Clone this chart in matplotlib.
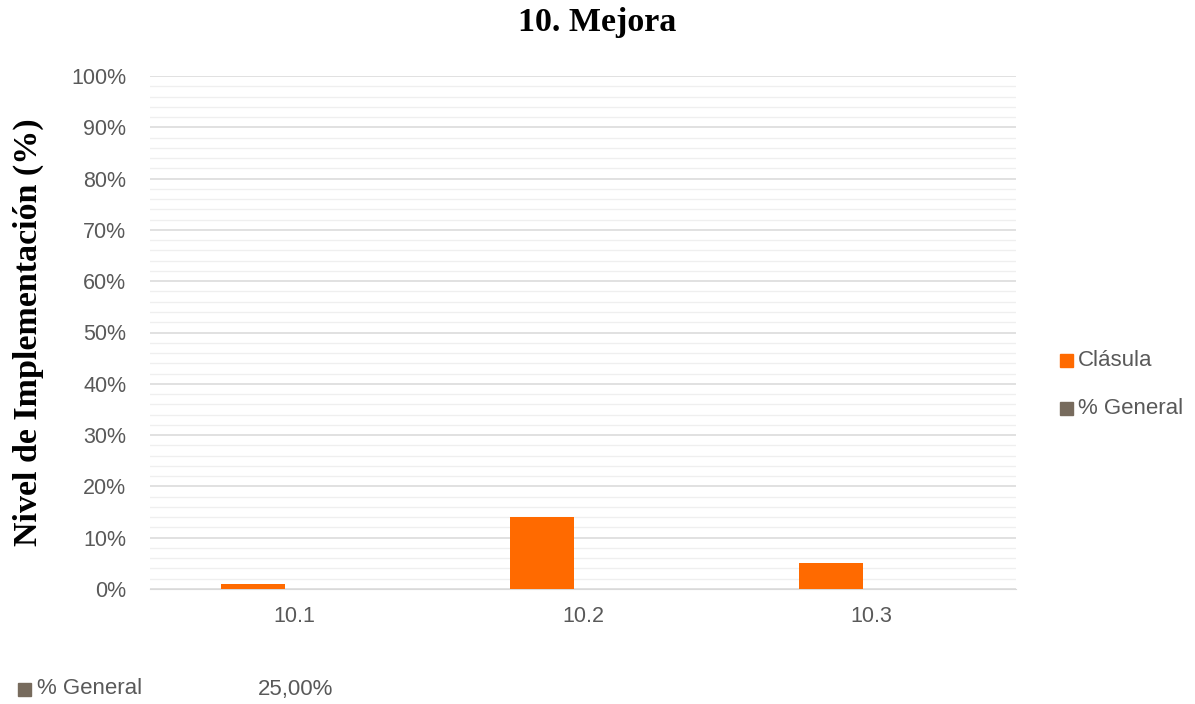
import matplotlib.pyplot as plt
from matplotlib.patches import Rectangle
import numpy as np

# clause data for section 10
categories = ["10.1", "10.2", "10.3"]
clausula = [1, 14, 5]
general = [0, 0, 0]
general_total = "25,00%"

orange = "#FF6A00"
taupe = "#776B5D"
text_gray = "#595959"

W, H = 1195, 704
fig = plt.figure(figsize=(W / 100, H / 100), dpi=100)
ax = fig.add_axes([150 / W, 1 - 589 / H, 866 / W, 513 / H])

x = np.arange(len(categories))
w = 0.222
off = 0.142
ax.bar(x - off, clausula, width=w, color=orange, zorder=3)
ax.bar(x + off, general, width=w, color=taupe, zorder=3)

ax.set_xlim(-0.5, 2.5)
ax.set_ylim(0, 100)
ax.set_xticks(x)
ax.set_xticklabels(categories)
ax.set_yticks(np.arange(0, 101, 10))
ax.set_yticklabels([f"{v}%" for v in range(0, 101, 10)])
ax.set_yticks(np.arange(0, 101, 2), minor=True)
ax.tick_params(axis="both", length=0, labelsize=15.5, colors=text_gray,
               labelfontfamily="Liberation Sans")
ax.tick_params(axis="y", which="minor", length=0)
ax.tick_params(axis="x", pad=12)
ax.tick_params(axis="y", pad=17)
ax.grid(axis="y", which="major", color="#D9D9D9", linewidth=1.1, zorder=0)
ax.grid(axis="y", which="minor", color="#EFEFEF", linewidth=0.9, zorder=0)
for s in ["top", "right", "left"]:
    ax.spines[s].set_visible(False)
ax.spines["bottom"].set_color("#D9D9D9")

ax.set_ylabel("Nivel de Implementación (%)", fontsize=24.5, fontweight="bold",
              family="Liberation Serif", color="black")
ax.yaxis.set_label_coords(-(150 - 44) / 866, 0.5)
fig.text(0.5, 1 - 22 / H, "10. Mejora", ha="center", va="center",
         fontsize=24.5, fontweight="bold", family="Liberation Serif")


def square(px, py, color):
    # small colour key drawn in pixel units
    fig.patches.append(Rectangle((px / W, 1 - (py + 6.5) / H), 13 / W, 13 / H,
                                 transform=fig.transFigure, color=color))


# legend on the right
for yy, lbl, c in [(360, "Clásula", orange), (408, "% General", taupe)]:
    square(1060, yy, c)
    fig.text(1078 / W, 1 - yy / H, lbl, color=text_gray, fontsize=16,
             ha="left", va="center", family="Liberation Sans")

# data table row below the chart
square(18, 689, taupe)
fig.text(37 / W, 1 - 689 / H, "% General", color=text_gray, fontsize=16,
         ha="left", va="center", family="Liberation Sans")
fig.text(296 / W, 1 - 689 / H, general_total, color=text_gray, fontsize=16,
         ha="center", va="center", family="Liberation Sans")

fig.savefig("out.png", dpi=100)
